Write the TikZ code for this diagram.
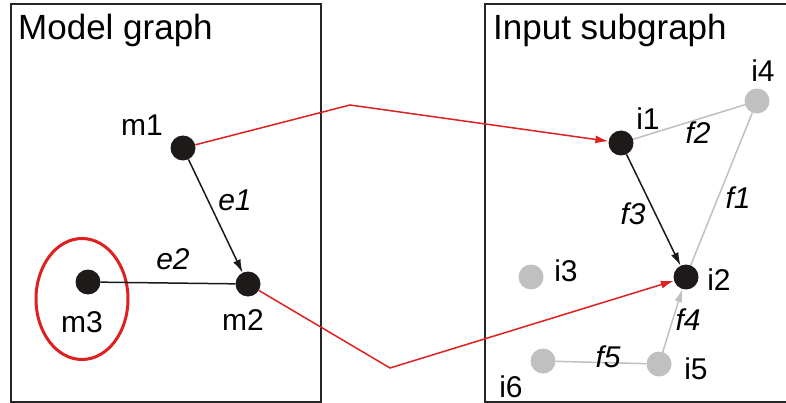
\documentclass[tikz,border=0pt]{standalone}
\usepackage{fontspec}
\setmainfont{Liberation Sans}
\usetikzlibrary{arrows.meta,shapes.geometric}
\definecolor{mapred}{RGB}{222,32,32}
\definecolor{lightg}{RGB}{192,192,192}
\definecolor{dotblack}{RGB}{30,26,26}
\begin{document}
\begin{tikzpicture}[x=1pt,y=-1pt,
  boxline/.style={draw=black!85,line width=1.4pt},
  title/.style={anchor=base west,font=\fontsize{35}{35}\selectfont,inner sep=0pt},
  lbl/.style={font=\fontsize{30}{30}\selectfont,inner sep=0pt},
  elbl/.style={font=\fontsize{30}{30}\selectfont\itshape,inner sep=0pt},
  bdot/.style={circle,fill=dotblack,minimum size=25pt,inner sep=0pt},
  gdot/.style={circle,fill=lightg,minimum size=25pt,inner sep=0pt},
  bedge/.style={draw=black!90,line width=1.5pt},
  gedge/.style={draw=lightg,line width=1.5pt},
  redge/.style={draw=mapred,line width=1.5pt},
  tip/.style={-{Latex[length=13pt,width=8pt]}}
]
\useasboundingbox (0,0) rectangle (786,403);
% boxes
\draw[boxline] (11,4) rectangle (321,402);
\draw[boxline] (790,4) -- (485,4) -- (485,402) -- (790,402);
\node[title] (t1) at (18,40) {Model graph};
\node[title] (t2) at (493,40) {Input subgraph};
% model nodes
\node[bdot] (m1) at (183,148) {};
\node[bdot] (m2) at (248,284) {};
\node[bdot] (m3) at (88,282) {};
\node[draw=mapred,line width=3pt,ellipse,minimum width=92pt,minimum height=121pt,inner sep=0pt] (ell) at (82,299) {};
\node[lbl] (lm1) at (142,125) {m1};
\node[lbl] (lm2) at (243,320) {m2};
\node[lbl] (lm3) at (82,322) {m3};
\draw[bedge,tip] (m1) -- (m2);
\draw[bedge] (m3) -- (m2);
\node[elbl] (e1) at (235,200) {e1};
\node[elbl] (e2) at (173,259) {e2};
% input nodes
\node[bdot] (i1) at (621,143) {};
\node[bdot] (i2) at (686,277) {};
\node[gdot] (i3) at (531,277) {};
\node[gdot] (i4) at (757,101) {};
\node[gdot] (i5) at (659,364) {};
\node[gdot] (i6) at (543,361) {};
\node[lbl] (li1) at (648,119) {i1};
\node[lbl] (li2) at (719,280) {i2};
\node[lbl] (li3) at (566,271) {i3};
\node[lbl] (li4) at (763,71) {i4};
\node[lbl] (li5) at (696,369) {i5};
\node[lbl] (li6) at (511,387) {i6};
\draw[gedge] (i1) -- (i4);
\draw[gedge] (i4) -- (i2);
\draw[gedge,tip] (i5) -- (i2);
\draw[gedge] (i6) -- (i5);
\draw[bedge,tip] (i1) -- (i2);
\node[elbl] (f1) at (738,198) {f1};
\node[elbl] (f2) at (698,133) {f2};
\node[elbl] (f3) at (633,214) {f3};
\node[elbl] (f4) at (688,320) {f4};
\node[elbl] (f5) at (608,357) {f5};
% mapping
\coordinate (b1) at (350,105);
\coordinate (b2) at (390,368);
\draw[redge,tip] (m1) -- (b1) -- (i1);
\draw[redge,tip] (m2) -- (b2) -- (i2);
\end{tikzpicture}
\end{document}
